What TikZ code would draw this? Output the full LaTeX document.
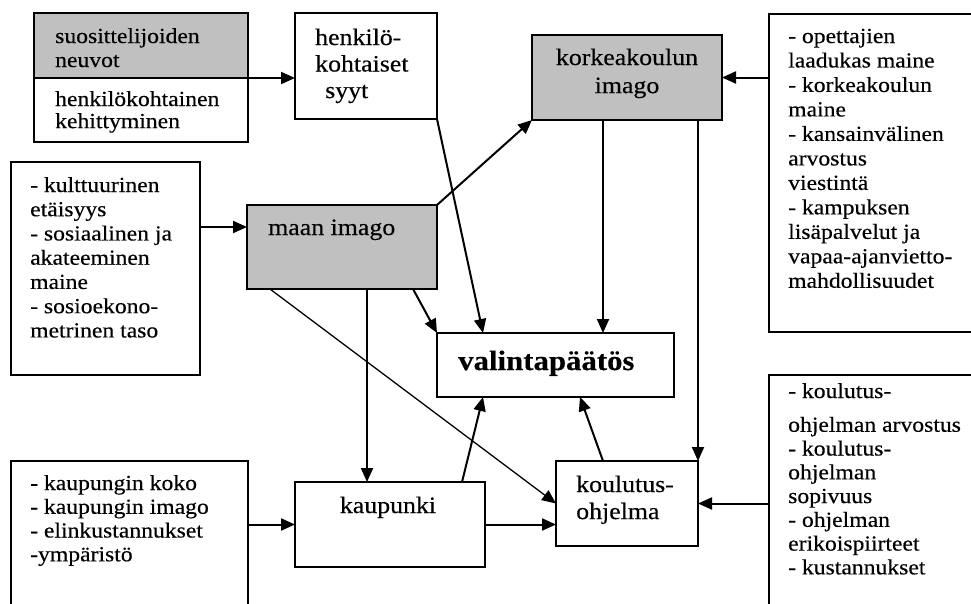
\documentclass[tikz,border=0pt]{standalone}
\usepackage{fontspec}
\setmainfont{Liberation Serif}[FakeStretch=1.1,FakeBold=0.3]
\usetikzlibrary{arrows.meta,calc}
\definecolor{boxgray}{HTML}{C0C0C0}
\newcommand\mysidefnt{\fontsize{21.5}{24}\selectfont}
\newcommand\mymainfnt{\fontsize{23.5}{26}\selectfont}
\newcommand\myboldfnt{\fontsize{28}{30}\selectfont\bfseries}
\newcommand\txtl[2][1]{{\renewcommand\arraystretch{#1}\begin{tabular}[t]{@{}l@{}}#2\end{tabular}}}
\newcommand\txtc[2][1]{{\renewcommand\arraystretch{#1}\begin{tabular}[t]{@{}c@{}}#2\end{tabular}}}
\tikzset{
  box/.style={draw, line width=1.8pt, fill=white, inner sep=0pt, outer sep=0pt, rectangle},
  graybox/.style={box, fill=boxgray},
  conn/.style={line width=2pt, -{Triangle[length=14pt,width=12pt]}},
  thinconn/.style={line width=1.3pt, -{Triangle[length=14pt,width=12pt]}},
  side/.style={inner sep=0pt, anchor=base west, font=\mysidefnt},
  mainl/.style={inner sep=0pt, anchor=base west, font=\mymainfnt},
}
\begin{document}
\begin{tikzpicture}[x=1pt, y=-1pt]
\clip (0,0) rectangle (971,603);
\fill[white] (0,0) rectangle (971,603);
% boxes
\node[box, minimum width=214pt, minimum height=129pt] (A) at (141,77.5) {};
\node[graybox, minimum width=214pt, minimum height=65pt] (Atop) at (141,45.5) {};
\node[box, minimum width=142pt, minimum height=106pt] (B) at (366,66) {};
\node[graybox, minimum width=190pt, minimum height=85pt] (K) at (627,77.5) {};
\node[box, minimum width=216pt, minimum height=318pt] (R1) at (877,173) {};
\node[box, minimum width=189pt, minimum height=213pt] (L1) at (105.5,268.5) {};
\node[graybox, minimum width=190pt, minimum height=84pt] (M) at (342,247) {};
\node[box, minimum width=237pt, minimum height=64pt] (V) at (555.5,365) {};
\node[box, minimum width=190pt, minimum height=85pt] (C) at (390,524.5) {};
\node[box, minimum width=142pt, minimum height=85pt] (P) at (627,503.5) {};
\node[box, minimum width=237pt, minimum height=154pt] (L2) at (129.5,538) {};
\node[box, minimum width=216pt, minimum height=240pt] (R2) at (877,495) {};
% texts
\node[side] (tA1) at (55,43) {\txtl{suosittelijoiden\\neuvot}};
\node[side] (tA2) at (55,106) {\txtl[0.92]{henkilökohtainen\\kehittyminen}};
\node[mainl] (tB) at (315,45) {\txtl[1.02]{henkilö-\\kohtaiset\\\hspace*{10pt}syyt}};
\node[inner sep=0pt, anchor=base, font=\mymainfnt] (tK) at (627,65) {\txtc[1.08]{korkeakoulun\\imago}};
\node[side] (tR1) at (788,43) {\txtl[1.02]{- opettajien\\laadukas maine\\- korkeakoulun\\maine\\- kansainvälinen\\arvostus\\viestintä\\- kampuksen\\lisäpalvelut ja\\vapaa-ajanvietto-\\mahdollisuudet}};
\node[side] (tL1) at (30,192) {\txtl[1.01]{- kulttuurinen\\etäisyys\\- sosiaalinen ja\\akateeminen\\maine\\- sosioekono-\\metrinen taso}};
\node[mainl] (tM) at (268,235) {maan imago};
\node[inner sep=0pt, anchor=base west, font=\myboldfnt] (tV) at (458,370) {valintapäätös};
\node[inner sep=0pt, anchor=base, font=\mymainfnt] (tC) at (388,513) {kaupunki};
\node[mainl] (tP) at (576,492) {\txtl[1.04]{koulutus-\\ohjelma}};
\node[side] (tL2) at (30,490) {\txtl[0.99]{- kaupungin koko\\- kaupungin imago\\- elinkustannukset\\-ympäristö}};
\node[side] (tR2) at (788,398) {\txtl[0.99]{- koulutus-\\[10pt]ohjelman arvostus\\- koulutus-\\ohjelman\\sopivuus\\- ohjelman\\erikoispiirteet\\- kustannukset}};
% helper coordinates
\coordinate (lvlA) at (0,227);
\coordinate (kd) at ($(K.south)+(-24,0)$);
\coordinate (ms) at ($(M.south east)+(-24,0)$);
\coordinate (cn) at ($(C.north)+(-23,0)$);
\coordinate (mw) at ($(M.south west)+(23,0)$);
\coordinate (cv) at ($(C.north)+(72,0)$);
\coordinate (vs1) at ($(V.south west)+(46,0)$);
\coordinate (vn1) at ($(V.north west)+(46,0)$);
\coordinate (pn) at ($(P.north)+(-24,0)$);
\coordinate (vs2) at ($(V.south)+(24.5,0)$);
% connectors
\draw[conn] (Atop.south east) -- (Atop.south east -| B.west);
\draw[conn] (B.south east) -- (vn1);
\draw[conn] (M.north east) -- (K.south west);
\draw[conn] (kd) -- (kd |- V.north);
\draw[conn] (P.north east |- K.south) -- (P.north east);
\draw[conn] (R1.west |- K.east) -- (K.east);
\draw[conn] (L1.east |- lvlA) -- (M.west |- lvlA);
\draw[conn] (ms) -- (V.north west);
\draw[conn] (cn |- M.south) -- (cn);
\draw[thinconn] (mw) -- (P.west);
\draw[conn] (cv) -- (vs1);
\draw[conn] (pn) -- (vs2);
\draw[conn] (C.east) -- (C.east -| P.west);
\draw[conn] (L2.east |- C.west) -- (C.west);
\draw[conn] (R2.west |- P.east) -- (P.east);
\end{tikzpicture}
\end{document}
